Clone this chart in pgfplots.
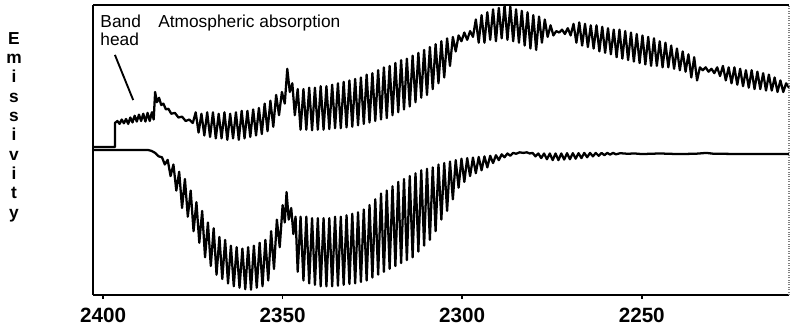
\documentclass[border=0pt]{standalone}
\usepackage{fontspec}
\setmainfont{Liberation Sans}
\usepackage{pgfplots}
\pgfplotsset{compat=1.18}
\begin{document}
\begin{tikzpicture}
\begin{axis}[
  name=ax,
  scale only axis,
  width=522pt, height=217.5pt,
  x dir=reverse,
  xmin=2209, xmax=2402.8,
  ymin=0, ymax=1.0,
  axis x line*=box,
  axis y line*=left,
  axis line style={line width=1.8pt, black},
  xtick={2250,2300,2350,2400},
  xticklabels={2250,2300,2350,2400},
  xtick pos=bottom,
  tick align=outside,
  major tick length=3pt,
  every tick/.style={black, line width=1.2pt},
  ytick=\empty,
  xticklabel style={font=\fontsize{15.5}{17}\selectfont\bfseries, yshift=-3.5pt},
  clip=false,
]
% upper trace
\addplot[black, line width=1.7pt, line join=round] coordinates {
(2402.8,0.51) (2396.7,0.51) (2396.7,0.593)
(2396.0,0.600) (2395.4,0.590) (2394.8,0.605) (2394.2,0.592) (2393.6,0.607) (2393.0,0.590) (2392.4,0.612) (2391.8,0.595) (2391.2,0.618) (2390.6,0.598) (2390.0,0.622) (2389.4,0.600) (2388.8,0.625) (2388.2,0.598) (2387.6,0.628) (2387.0,0.600) (2386.4,0.630) (2385.9,0.605)
(2385.5,0.70) (2385.0,0.665) (2384.4,0.68) (2383.8,0.655) (2383.2,0.66) (2382.5,0.64) (2381.8,0.642) (2381,0.625) (2380,0.628) (2379,0.612) (2378,0.615) (2377,0.600) (2376,0.605) (2375,0.593)
(2374.2,0.63) (2373.4,0.56) (2372.6,0.625) (2371.8,0.55) (2371.0,0.63) (2370.2,0.545) (2369.4,0.63) (2368.6,0.54) (2367.8,0.625) (2367.0,0.54) (2366.2,0.63) (2365.4,0.535) (2364.6,0.625) (2363.8,0.54) (2363.0,0.63) (2362.2,0.535) (2361.4,0.635) (2360.6,0.54) (2359.8,0.635) (2359.0,0.545) (2358.2,0.64) (2357.4,0.55) (2356.6,0.645) (2355.8,0.555) (2355.0,0.66) (2354.2,0.565) (2353.4,0.67) (2352.6,0.58) (2351.8,0.69) (2351.0,0.62) (2350.2,0.70) (2349.4,0.66) (2348.7,0.78) (2348.0,0.70) (2347.3,0.73) (2346.6,0.62)
(2345.8,0.71) (2345.0,0.57) (2344.2,0.71) (2343.4,0.57) (2342.6,0.715) (2341.8,0.568) (2341.0,0.715) (2340.2,0.57) (2339.4,0.72) (2338.6,0.57) (2337.8,0.72) (2337.0,0.572) (2336.2,0.725) (2335.4,0.575) (2334.6,0.73) (2333.8,0.575) (2333.0,0.735) (2332.2,0.578) (2331.4,0.74) (2330.6,0.58) (2329.8,0.745) (2329.0,0.585) (2328.2,0.75) (2327.4,0.59) (2326.6,0.76) (2325.8,0.595) (2325.0,0.765) (2324.2,0.60) (2323.4,0.775) (2322.6,0.605) (2321.8,0.785) (2321.0,0.61) (2320.2,0.79) (2319.4,0.62) (2318.6,0.80) (2317.8,0.63) (2317.0,0.81) (2316.2,0.64) (2315.4,0.815) (2314.6,0.65) (2313.8,0.825) (2313.0,0.665) (2312.2,0.835) (2311.4,0.68) (2310.6,0.845) (2309.8,0.69) (2309.0,0.855) (2308.2,0.71) (2307.4,0.865) (2306.6,0.73) (2305.8,0.875) (2305.0,0.75) (2304.2,0.885) (2303.4,0.79) (2302.6,0.89) (2301.8,0.84) (2301.0,0.895) (2300.2,0.875) (2299.4,0.905) (2298.6,0.88) (2297.8,0.91) (2297.0,0.89) (2296.2,0.95) (2295.4,0.87) (2294.6,0.965) (2293.8,0.87) (2293.0,0.975) (2292.2,0.88) (2291.4,0.985) (2290.6,0.875) (2289.8,0.99) (2289.0,0.885) (2288.2,1.0) (2287.4,0.88) (2286.6,0.995) (2285.8,0.875) (2285.0,0.985) (2284.2,0.87) (2283.4,0.98) (2282.6,0.86) (2281.8,0.975) (2281.0,0.85) (2280.2,0.965) (2279.4,0.845) (2278.6,0.96) (2277.8,0.87) (2277.0,0.95) (2276.2,0.89) (2275.4,0.93) (2274.6,0.895) (2273.8,0.91) (2273.0,0.905) (2272.2,0.915) (2271.4,0.90) (2270.6,0.92) (2269.8,0.895) (2269.0,0.935) (2268.2,0.87) (2267.4,0.94) (2266.6,0.86) (2265.8,0.935) (2265.0,0.855) (2264.2,0.93) (2263.4,0.85) (2262.6,0.93) (2261.8,0.84) (2261.0,0.925) (2260.2,0.835) (2259.4,0.92) (2258.6,0.83) (2257.8,0.915) (2257.0,0.82) (2256.2,0.915) (2255.4,0.815) (2254.6,0.91) (2253.8,0.81) (2253.0,0.905) (2252.2,0.805) (2251.4,0.90) (2250.6,0.80) (2249.8,0.895) (2249.0,0.795) (2248.2,0.89) (2247.4,0.79) (2246.6,0.885) (2245.8,0.79) (2245.0,0.875) (2244.2,0.785) (2243.4,0.87) (2242.6,0.785) (2241.8,0.86) (2241.0,0.78) (2240.2,0.85) (2239.4,0.775) (2238.6,0.84) (2237.8,0.77) (2237.0,0.83) (2236.2,0.75) (2235.4,0.82) (2234.6,0.74) (2233.8,0.785) (2233.0,0.775) (2232.2,0.785) (2231.4,0.77) (2230.6,0.78) (2229.8,0.765) (2229.0,0.785) (2228.2,0.755) (2227.4,0.79) (2226.6,0.74) (2225.8,0.785) (2225.0,0.73) (2224.2,0.785) (2223.4,0.725) (2222.6,0.78) (2221.8,0.72) (2221.0,0.775) (2220.2,0.715) (2219.4,0.775) (2218.6,0.71) (2217.8,0.77) (2217.0,0.71) (2216.2,0.765) (2215.4,0.705) (2214.6,0.76) (2213.8,0.705) (2213.0,0.75) (2212.2,0.70) (2211.4,0.74) (2210.6,0.70) (2209.8,0.73) (2209.0,0.715)
};
% lower trace
\addplot[black, line width=1.7pt, line join=round] coordinates {
(2402.8,0.5) (2387.5,0.5) (2386.5,0.497) (2385.5,0.49) (2384.5,0.478)
(2383.6,0.475) (2382.8,0.45) (2382.0,0.466) (2381.2,0.41) (2380.4,0.45) (2379.6,0.36) (2378.8,0.425) (2378.0,0.30) (2377.2,0.40) (2376.4,0.27) (2375.6,0.36) (2374.8,0.22) (2374.0,0.32) (2373.2,0.18) (2372.4,0.29) (2371.6,0.13) (2370.8,0.25) (2370.0,0.10) (2369.2,0.23) (2368.4,0.07) (2367.6,0.20) (2366.8,0.055) (2366.0,0.19) (2365.2,0.04) (2364.4,0.17) (2363.6,0.03) (2362.8,0.165) (2362.0,0.025) (2361.2,0.16) (2360.4,0.02) (2359.6,0.165) (2358.8,0.018) (2358.0,0.17) (2357.2,0.025) (2356.4,0.18) (2355.6,0.03) (2354.8,0.19) (2354.0,0.05) (2353.2,0.22) (2352.4,0.09) (2351.6,0.26) (2350.8,0.165) (2350.0,0.31) (2349.4,0.25) (2348.9,0.355) (2348.3,0.26) (2347.6,0.30) (2347.0,0.21) (2346.4,0.27) (2345.8,0.08)
(2345.0,0.27) (2344.2,0.05) (2343.4,0.27) (2342.6,0.04) (2341.8,0.265) (2341.0,0.035) (2340.2,0.265) (2339.4,0.03) (2338.6,0.265) (2337.8,0.03) (2337.0,0.265) (2336.2,0.03) (2335.4,0.27) (2334.6,0.032) (2333.8,0.27) (2333.0,0.035) (2332.2,0.275) (2331.4,0.038) (2330.6,0.28) (2329.8,0.04) (2329.0,0.285) (2328.2,0.045) (2327.4,0.295) (2326.6,0.05) (2325.8,0.31) (2325.0,0.06) (2324.2,0.33) (2323.4,0.07) (2322.6,0.35) (2321.8,0.08) (2321.0,0.36) (2320.2,0.09) (2319.4,0.375) (2318.6,0.10) (2317.8,0.39) (2317.0,0.11) (2316.2,0.40) (2315.4,0.12) (2314.6,0.41) (2313.8,0.13) (2313.0,0.42) (2312.2,0.15) (2311.4,0.43) (2310.6,0.17) (2309.8,0.435) (2309.0,0.19) (2308.2,0.44) (2307.4,0.22) (2306.6,0.45) (2305.8,0.26) (2305.0,0.455) (2304.2,0.29) (2303.4,0.46) (2302.6,0.33) (2301.8,0.465) (2301.0,0.37) (2300.2,0.47) (2299.4,0.39) (2298.6,0.472) (2297.8,0.41) (2297.0,0.474) (2296.2,0.42) (2295.4,0.476) (2294.6,0.43) (2293.8,0.478) (2293.0,0.44) (2292.2,0.48) (2291.4,0.455) (2290.6,0.482) (2289.8,0.465) (2289.0,0.485) (2288.2,0.475) (2287.4,0.488) (2286.6,0.48) (2285.8,0.49) (2285.0,0.487) (2284.0,0.492) (2283.0,0.49) (2282.0,0.492) (2281.2,0.488) (2280.4,0.49) (2279.6,0.478) (2278.8,0.488) (2278.0,0.472) (2277.2,0.488) (2276.4,0.468) (2275.6,0.488) (2274.8,0.465) (2274.0,0.488) (2273.2,0.465) (2272.4,0.488) (2271.6,0.467) (2270.8,0.489) (2270.0,0.468) (2269.2,0.489) (2268.4,0.47) (2267.6,0.489) (2266.8,0.472) (2266.0,0.49) (2265.2,0.475) (2264.4,0.49) (2263.6,0.478) (2262.8,0.49) (2262.0,0.48) (2261.2,0.49) (2260.4,0.482) (2259.6,0.49) (2258.8,0.484) (2258.0,0.49) (2257.2,0.485) (2256.0,0.489) (2254,0.487) (2252,0.488) (2250,0.486) (2245,0.488) (2240,0.486) (2235,0.487) (2232,0.49) (2230,0.487) (2220,0.486) (2209,0.486)
};
\draw[gray, densely dotted, line width=0.8pt] (rel axis cs:1,0) -- (rel axis cs:1,1);
\node[anchor=base west, inner sep=0, font=\fontsize{13}{14}\selectfont] at (axis cs:2400.8,0.924) {Band};
\node[anchor=base west, inner sep=0, font=\fontsize{13}{14}\selectfont] at (axis cs:2400.8,0.862) {head};
\node[anchor=base west, inner sep=0, font=\fontsize{13}{14}\selectfont] at (axis cs:2384.7,0.924) {Atmospheric absorption};
\draw[black, line width=1.4pt] (axis cs:2396.7,0.828) -- (axis cs:2391.6,0.672);
\end{axis}
\node[anchor=north, align=center, inner sep=0, font=\fontsize{13}{14.5}\selectfont\bfseries] at ([xshift=-59.25pt, yshift=-20.25pt]ax.north west) {E\\m\\i\\s\\s\\i\\v\\i\\t\\y};
\pgfresetboundingbox
\useasboundingbox ([xshift=-69.75pt, yshift=-24pt]ax.south west) rectangle ([xshift=1.5pt, yshift=3.75pt]ax.north east);
\end{tikzpicture}
\end{document}
